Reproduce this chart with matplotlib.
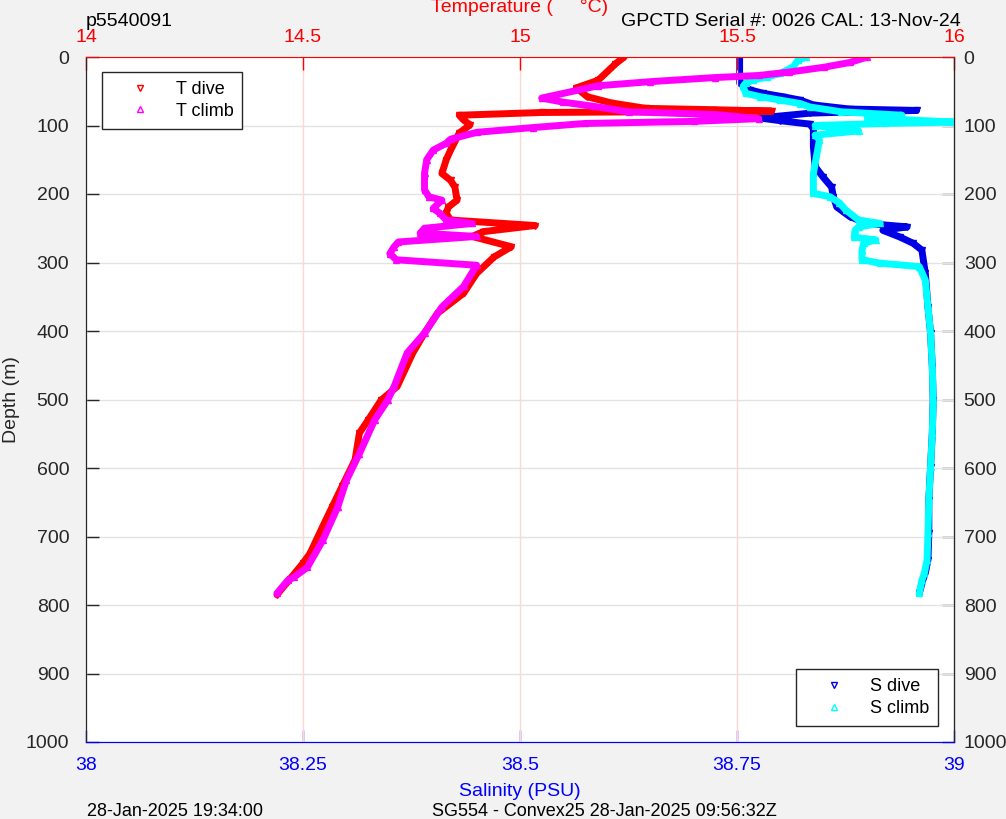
import matplotlib
matplotlib.use("Agg")
import matplotlib.pyplot as plt
from matplotlib.lines import Line2D

plt.rcParams['font.family'] = ['Liberation Sans', 'DejaVu Sans']

# --------------------
# Data (depth in m)
# --------------------
t_dive_depth = [0, 10, 34, 45, 58, 67, 75, 77, 79, 80, 81, 85, 92, 99, 111, 136, 150,
                170, 180, 190, 209, 219, 228, 238, 246, 255, 262, 277, 292, 316, 345,
                374, 403, 432, 481, 501, 530, 549, 588, 627, 657, 686, 725, 739, 762, 785]
t_dive_temp = [15.24, 15.22, 15.18, 15.13, 15.155, 15.21, 15.29, 15.45, 15.58, 15.30,
               15.05, 14.86, 14.87, 14.885, 14.86, 14.84, 14.83, 14.82, 14.84, 14.85,
               14.855, 14.835, 14.83, 14.84, 15.035, 14.915, 14.89, 14.98, 14.94, 14.90,
               14.87, 14.81, 14.78, 14.753, 14.717, 14.68, 14.65, 14.63, 14.62, 14.59,
               14.567, 14.545, 14.516, 14.50, 14.47, 14.44]

t_climb_depth = [0, 8, 15, 22, 27, 30, 36, 42, 60, 66, 72, 80, 84, 90, 94, 97, 103, 110,
                 120, 126, 136, 150, 170, 194, 204, 209, 221, 228, 238, 243, 250, 257,
                 262, 270, 277, 287, 296, 304, 335, 365, 403, 432, 481, 501, 530, 579,
                 618, 657, 705, 745, 759, 764, 783]
t_climb_temp = [15.80, 15.76, 15.70, 15.62, 15.55, 15.45, 15.30, 15.18, 15.05, 15.10,
                15.17, 15.25, 15.45, 15.55, 15.40, 15.15, 15.03, 14.90, 14.84, 14.83,
                14.80, 14.785, 14.78, 14.78, 14.79, 14.82, 14.80, 14.815, 14.83, 14.89,
                14.78, 14.77, 14.90, 14.72, 14.71, 14.70, 14.715, 14.90, 14.87, 14.82,
                14.78, 14.74, 14.71, 14.695, 14.665, 14.63, 14.60, 14.58, 14.546, 14.51,
                14.48, 14.465, 14.44]

s_dive_depth = [0, 38, 48, 53, 58, 63, 70, 76, 78, 81, 82, 89, 93, 98, 105, 131, 160,
                175, 190, 204, 219, 233, 243, 248, 253, 263, 272, 282, 316, 365, 403,
                452, 501, 549, 598, 647, 695, 734, 753, 764, 783]
s_dive_sal = [38.753, 38.753, 38.765, 38.78, 38.803, 38.823, 38.838, 38.88, 38.957,
              38.86, 38.834, 38.776, 38.80, 38.834, 38.838, 38.838, 38.84, 38.849,
              38.859, 38.861, 38.865, 38.88, 38.90, 38.946, 38.918, 38.938, 38.953,
              38.963, 38.967, 38.97, 38.973, 38.975, 38.976, 38.975, 38.973, 38.971,
              38.971, 38.97, 38.967, 38.964, 38.96]

s_climb_depth = [0, 5, 14, 24, 29, 34, 38, 43, 53, 58, 63, 68, 73, 80, 85, 88, 92, 95,
                 97, 100, 108, 114, 121, 170, 199, 204, 213, 223, 238, 243, 248, 253,
                 263, 267, 272, 282, 296, 301, 306, 326, 365, 403, 452, 501, 549, 598,
                 647, 695, 734, 753, 764, 783]
s_climb_sal = [38.83, 38.82, 38.815, 38.80, 38.785, 38.768, 38.76, 38.757, 38.76,
               38.777, 38.80, 38.823, 38.834, 38.87, 38.94, 38.90, 38.95, 39.0, 38.92,
               38.84, 38.89, 38.84, 38.845, 38.838, 38.838, 38.857, 38.868, 38.875,
               38.89, 38.915, 38.89, 38.886, 38.885, 38.91, 38.896, 38.894, 38.894,
               38.915, 38.96, 38.967, 38.97, 38.973, 38.975, 38.976, 38.975, 38.973,
               38.971, 38.97, 38.969, 38.966, 38.963, 38.96]

depth_ticks = [0, 100, 200, 300, 400, 500, 600, 700, 800, 900, 1000]
temp_ticks = [14, 14.5, 15, 15.5, 16]
temp_labels = ['14', '14.5', '15', '15.5', '16']
sal_ticks = [38, 38.25, 38.5, 38.75, 39]
sal_labels = ['38', '38.25', '38.5', '38.75', '39']

# --------------------
# Figure
# --------------------
W, H = 1006, 819
fig = plt.figure(figsize=(W / 100, H / 100), dpi=100, facecolor='#f2f2f2')


def fx(x):
    return x / W


def fy(y):
    return 1 - y / H


ax = fig.add_axes([fx(86), fy(742), 868 / W, 685 / H])
ax2 = ax.twiny()
dark = '#262626'

# grids
ax.yaxis.grid(True, color='#e3e3e3', lw=1)
ax.set_axisbelow(True)
ax2.xaxis.grid(True, color='#ffd6d6', lw=1)
ax2.set_axisbelow(True)

# salinity (bottom axis)
lw = 5
style = dict(lw=lw, ms=4, mfc='none', solid_joinstyle='round',
             solid_capstyle='round')
ax.plot(s_dive_sal, s_dive_depth, color='#0000e6', marker='v', **style)
ax.plot(s_climb_sal, s_climb_depth, color='#00ffff', marker='^', **style)

# temperature (top axis)
ax2.plot(t_dive_temp, t_dive_depth, color='#ff0000', marker='v', **style)
ax2.plot(t_climb_temp, t_climb_depth, color='#ff00ff', marker='^', **style)

ax.set_xlim(38, 39)
ax2.set_xlim(14, 16)
ax.set_ylim(1000, 0)

ax.set_xticks(sal_ticks)
ax.set_xticklabels(sal_labels)
ax2.set_xticks(temp_ticks)
ax2.set_xticklabels(temp_labels)
ax.set_yticks(depth_ticks)
ax.set_yticklabels([str(d) for d in depth_ticks])

ax.tick_params(axis='x', direction='in', length=9, width=1, colors='blue',
               labelsize=14, pad=11, top=False)
ax.tick_params(axis='y', direction='in', length=9, width=1, color=dark,
               labelcolor=dark, labelsize=14, pad=12, left=True, right=False)
ax2.tick_params(axis='x', direction='in', length=9, width=1, colors='red',
                labelsize=14, pad=8)

# right-hand depth labels
sec = ax.secondary_yaxis('right')
sec.set_yticks(depth_ticks)
sec.set_yticklabels([str(d) for d in depth_ticks])
sec.tick_params(direction='in', length=9, width=1, color=dark, labelcolor=dark,
                labelsize=14, pad=7)
sec.spines['right'].set_color(dark)

for s in ['left', 'right']:
    ax.spines[s].set_color(dark)
    ax2.spines[s].set_color(dark)
ax.spines['bottom'].set_color('blue')
ax2.spines['bottom'].set_color('blue')
ax.spines['top'].set_visible(False)
ax2.spines['top'].set_color('red')

# legends
leg_kw = dict(frameon=True, fancybox=False, edgecolor=dark, fontsize=13,
              borderaxespad=0, handlelength=3.2, handletextpad=0.4,
              borderpad=0.5, labelspacing=0.25, framealpha=1)
h_t = [Line2D([], [], ls='none', marker='v', color='#ff0000', ms=4, mfc='none'),
       Line2D([], [], ls='none', marker='^', color='#ff00ff', ms=4, mfc='none')]
leg1 = ax2.legend(h_t, ['T dive', 'T climb'], loc='upper left',
                  bbox_to_anchor=(0.018, 0.978), **leg_kw)
leg1.get_frame().set_linewidth(1)

h_s = [Line2D([], [], ls='none', marker='v', color='#0000e6', ms=4, mfc='none'),
       Line2D([], [], ls='none', marker='^', color='#00ffff', ms=4, mfc='none')]
leg2 = ax2.legend(h_s, ['S dive', 'S climb'], loc='lower right',
                  bbox_to_anchor=(0.9816, 0.0234), **leg_kw)
leg2.get_frame().set_linewidth(1)
ax2.add_artist(leg1)

# labels and annotations
fig.text(fx(520), fy(7), 'Temperature (     °C)', color='red', fontsize=14,
         ha='center', va='center')
fig.text(fx(520), fy(791), 'Salinity (PSU)', color='blue', fontsize=14,
         ha='center', va='center')
fig.text(fx(11), fy(400), 'Depth (m)', color=dark, fontsize=14, rotation=90,
         ha='center', va='center')
fig.text(fx(86), fy(22), 'p5540091', color='black', fontsize=14,
         ha='left', va='center')
fig.text(fx(961), fy(22), 'GPCTD Serial #: 0026 CAL: 13-Nov-24', color='black',
         fontsize=14, ha='right', va='center')
fig.text(fx(87), fy(812), '28-Jan-2025 19:34:00', color='black', fontsize=13,
         ha='left', va='center')
fig.text(fx(432), fy(812), 'SG554 - Convex25 28-Jan-2025 09:56:32Z', color='black',
         fontsize=13, ha='left', va='center')

fig.savefig('out.png', dpi=100, facecolor=fig.get_facecolor())
